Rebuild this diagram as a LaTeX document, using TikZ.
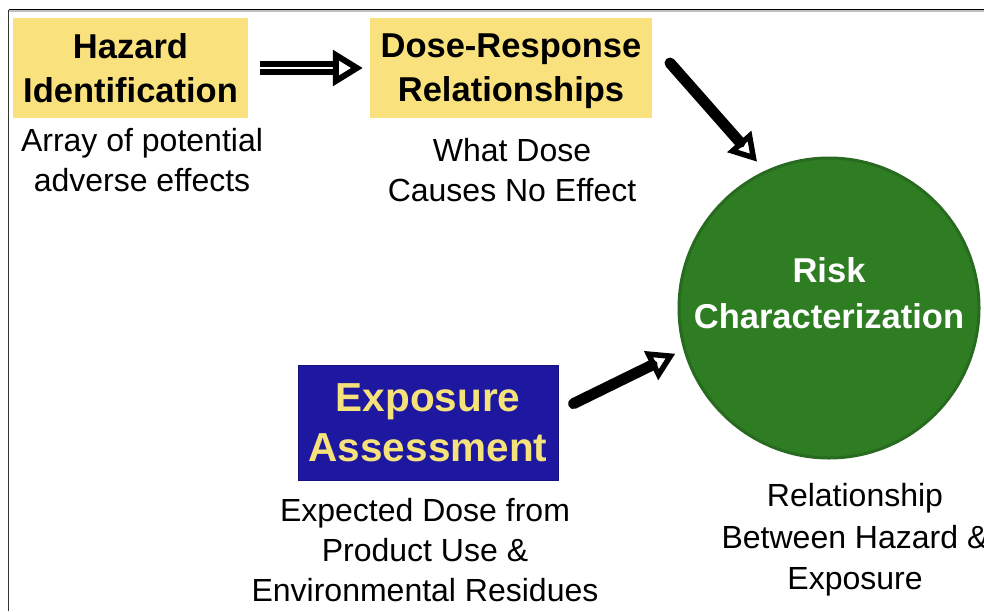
\documentclass[tikz,border=0pt]{standalone}
\usepackage{fontspec}
\setmainfont{Liberation Sans}
\usetikzlibrary{arrows.meta}

\definecolor{boxyellow}{HTML}{F9E27D}
\definecolor{expoblue}{HTML}{1E17A0}
\definecolor{textyellow}{HTML}{F5E27A}
\definecolor{riskgreen}{HTML}{2E7D23}
\definecolor{riskedge}{HTML}{286A1F}

\tikzset{
  stagebox/.style={fill=boxyellow, minimum width=#1, minimum height=100pt, inner sep=0pt,
    text depth=0pt, align=center, font=\fontsize{34.5}{44}\selectfont\bfseries},
  expobox/.style={fill=expoblue, draw=expoblue!80!black, text=textyellow, minimum width=260pt,
    minimum height=115pt, inner sep=0pt, align=center, font=\fontsize{40.5}{50}\selectfont\bfseries},
  riskcircle/.style={circle, fill=riskgreen, draw=riskedge, line width=3pt, minimum size=300pt, inner sep=0pt},
  risktext/.style={text=white, align=center, inner sep=0pt, font=\fontsize{34.5}{46}\selectfont\bfseries},
  caption/.style={align=center, inner sep=0pt, font=\fontsize{32}{40}\selectfont},
  fatarrow/.style={line width=11pt, line cap=round,
    -{Triangle[open,length=27pt,width=31pt,line width=5.5pt]}}
}

\begin{document}
\begin{tikzpicture}[x=1pt,y=-1pt]
% Page size and frame lines
\useasboundingbox (0,0) rectangle (984,611);
\draw[gray!50, line width=1.5pt] (8,11) -- (984,11);
\draw[line width=1.4pt] (8.5,9.5) -- (984,9.5);
\draw[black!80, line width=1.4pt] (8.5,9.5) -- (8.5,611);

% The four steps
\node[stagebox=235pt] (hazard) at (130.5,68) {Hazard\\Identification};
\node[stagebox=282pt] (dose) at (511,68) {Dose-Response\\Relationships};
\node[expobox] (expo) at (428,422.5) {Exposure\\Assessment};
\node[riskcircle] (risk) at (829,308) {};
\node[risktext] (risktitle) at ([yshift=15pt]risk.center) {Risk\\Characterization};

% Text under each step
\node[caption] (hazardnote) at (142,160) {Array of potential\\adverse effects};
\node[caption] (dosenote) at (512,170) {What Dose\\Causes No Effect};
\node[caption] (exponote) at (425,550) {Expected Dose from\\Product Use \&\\Environmental Residues};
\node[caption, font=\fontsize{32}{41.5}\selectfont] (risknote) at (855,540) {Relationship\\Between Hazard \&\\Exposure};

% Arrows
\coordinate (doseout) at (670,63);
\draw[line width=6pt, double=white, double distance=1.5pt, shorten <=12pt, shorten >=7pt,
  -{Triangle[open,length=30pt,width=35pt,line width=6pt]}] (hazard.east) -- (dose.west);
\draw[fatarrow, shorten >=12pt] (doseout) -- (risk.115);
\draw[fatarrow, shorten <=17pt, shorten >=9pt] (expo.5) -- (risk.196);
\end{tikzpicture}
\end{document}
